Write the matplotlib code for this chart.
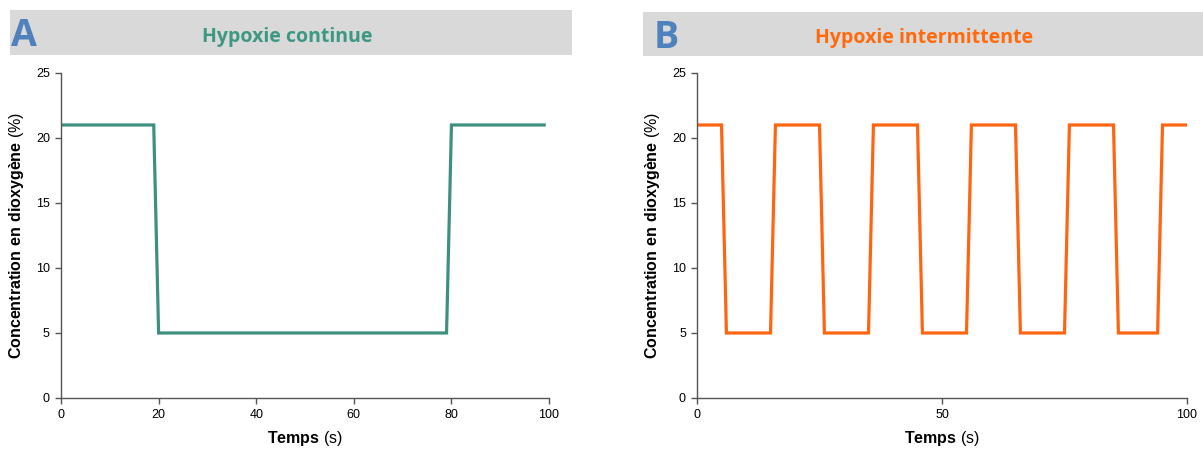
import matplotlib
matplotlib.use("Agg")
import matplotlib.pyplot as plt
from matplotlib.patches import Rectangle

plt.rcParams["font.family"] = ["Liberation Sans", "DejaVu Sans"]
plt.rcParams["mathtext.fontset"] = "custom"
plt.rcParams["mathtext.rm"] = "Liberation Sans"
plt.rcParams["mathtext.bf"] = "Liberation Sans:bold"

# Panel A: continuous hypoxia
time_a = [0, 19, 20, 79, 80, 99]
o2_a = [21, 21, 5, 5, 21, 21]

# Panel B: intermittent hypoxia
time_b = [0, 5, 6, 15, 16, 25, 26, 35, 36, 45, 46, 55, 56, 65, 66, 75, 76, 85, 86, 94, 95, 100]
o2_b = [21, 21, 5, 5, 21, 21, 5, 5, 21, 21, 5, 5, 21, 21, 5, 5, 21, 21, 5, 5, 21, 21]

xticks_a = [0, 20, 40, 60, 80, 100]
xticks_b = [0, 50, 100]
yticks = [0, 5, 10, 15, 20, 25]

titles = ["Hypoxie continue", "Hypoxie intermittente"]
letters = ["A", "B"]
title_colors = ["#3d9883", "#ff6a0d"]
line_colors = ["#3d8f7f", "#ff6410"]
letter_color = "#4f81bd"

fig = plt.figure(figsize=(12.03, 4.5), dpi=100)

panels = [
    dict(ax_rect=[0.0507, 0.1156, 0.4057, 0.7222], head=[0.0083, 0.878, 0.467, 0.1],
         x=time_a, y=o2_a, xticks=xticks_a, title_x=0.2386, letter_x=0.0095),
    dict(ax_rect=[0.5794, 0.1156, 0.4073, 0.7222], head=[0.5345, 0.8756, 0.4655, 0.0978],
         x=time_b, y=o2_b, xticks=xticks_b, title_x=0.768, letter_x=0.5435),
]

for i, p in enumerate(panels):
    hx, hy, hw, hh = p["head"]
    fig.patches.append(Rectangle((hx, hy), hw, hh, transform=fig.transFigure,
                                 facecolor="#d9d9d9", edgecolor="none", zorder=0))
    fig.text(p["letter_x"], hy + hh / 2 - 0.008, letters[i],
             fontsize=27, fontweight="bold", color=letter_color,
             family=["Open Sans", "DejaVu Sans"], va="center", ha="left")
    fig.text(p["title_x"], hy + hh / 2 - 0.01, titles[i],
             fontsize=14, fontweight="bold", color=title_colors[i],
             family=["Open Sans", "DejaVu Sans"], va="center", ha="center")

    ax = fig.add_axes(p["ax_rect"])
    ax.plot(p["x"], p["y"], color=line_colors[i], linewidth=2.3, solid_joinstyle="miter")
    ax.set_xlim(0, 100)
    ax.set_ylim(0, 25)
    ax.set_xticks(p["xticks"])
    ax.set_yticks(yticks)
    for side in ["top", "right"]:
        ax.spines[side].set_visible(False)
    for side in ["left", "bottom"]:
        ax.spines[side].set_color("#555555")
        ax.spines[side].set_linewidth(1.0)
    ax.tick_params(direction="out", length=4, width=1.0, color="#555555",
                   labelsize=9, pad=4)
    ax.set_xlabel(r"$\bf{Temps}$ (s)", fontsize=11.5, labelpad=6)
    ax.set_ylabel("$\\bf{Concentration\\ en\\ dioxyg\u00e8ne}$ (%)", fontsize=11.5, labelpad=7)

fig.savefig("out.png", dpi=100)
